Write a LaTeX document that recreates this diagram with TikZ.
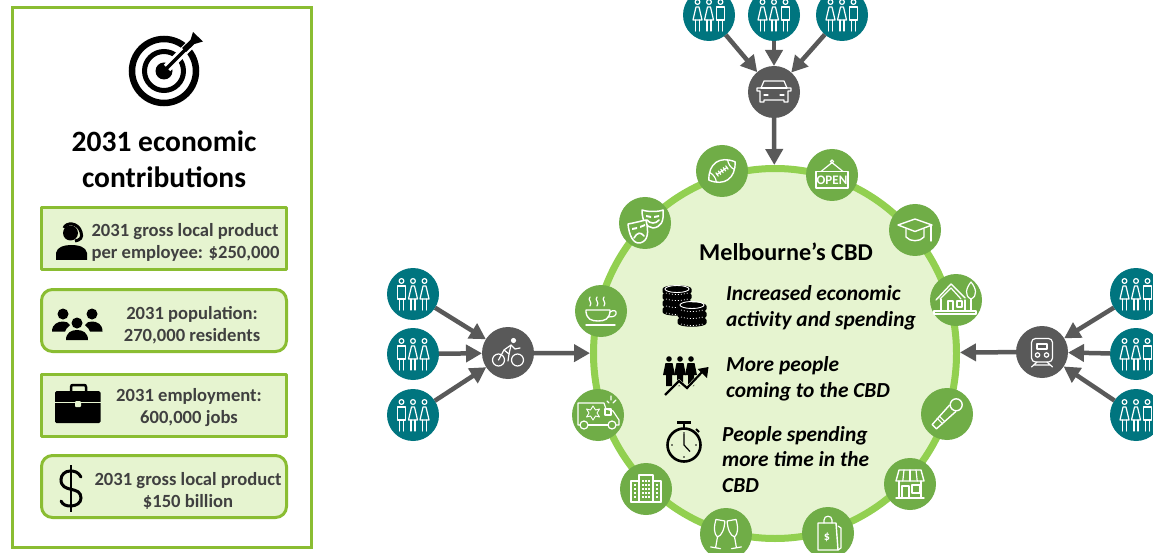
\documentclass[tikz,border=0pt]{standalone}
\usepackage{fontspec}
\setmainfont{Carlito}
\usetikzlibrary{arrows.meta,shapes.geometric}
\definecolor{boxline}{HTML}{8ABD32}
\definecolor{boxfill}{HTML}{E6F4D0}
\definecolor{ringline}{HTML}{92D050}
\definecolor{iconfill}{HTML}{70AD47}
\definecolor{tealc}{HTML}{00757F}
\definecolor{darkc}{HTML}{595959}
\definecolor{txtc}{HTML}{404040}
\tikzset{
  dot/.style={circle,minimum size=52pt,inner sep=0pt,outer sep=0pt},
  ringdot/.style={dot,fill=iconfill},
  tealdot/.style={dot,fill=tealc},
  darkdot/.style={dot,fill=darkc},
  arr/.style={draw=darkc,line width=4.5pt,-{Triangle[length=16pt,width=17pt]}},
  sqbox/.style={draw=boxline,line width=3pt,fill=boxfill,line join=round},
  rdbox/.style={sqbox,rounded corners=11pt},
  boxtext/.style={text=txtc,font=\fontsize{18.6}{22}\bfseries\selectfont,align=center,inner sep=0pt},
  ittext/.style={text=black,font=\fontsize{21.4}{25.5}\bfseries\itshape\selectfont,align=left,anchor=west,inner sep=0pt},
  wl/.style={draw=white,line width=1.2pt,line join=round,line cap=round},
  woman/.pic={
    \draw[wl] (0,-13) circle (2.4);
    \draw[wl] (-1.5,-8) -- (-4.5,5) -- (4.5,5) -- (1.5,-8) -- cycle;
    \draw[wl] (-2,5) -- (-2,16) (2,5) -- (2,16);
  },
  man/.pic={
    \draw[wl] (0,-13) circle (2.4);
    \draw[wl] (-4.2,-8) rectangle (4.2,5);
    \draw[wl] (-2.3,5) -- (-2.3,16) (2.3,5) -- (2.3,16);
  },
  crowdL/.pic={\pic at (-11.5,0) {man};\pic at (0,0) {woman};\pic at (11.5,0) {woman};},
  crowdR/.pic={\pic at (-11.5,0) {woman};\pic at (0,0) {woman};\pic at (11.5,0) {man};},
}
\begin{document}
\begin{tikzpicture}[x=1pt,y=-1pt]
\clip (0,0) rectangle (1153,553);
\fill[white] (0,0) rectangle (1153,553);
%% left panel
\node[draw=boxline,line width=3pt,fill=white,minimum width=299pt,minimum height=540pt,inner sep=0pt] (panel) at (161.5,277.5) {};
\node[font=\fontsize{29.5}{36}\bfseries\selectfont,align=center,inner sep=0pt] (title) at (164,159.5) {2031 economic\\contributions};
\node[sqbox,minimum width=245pt,minimum height=62pt,inner sep=0pt] (b1) at (164,238.5) {};
\node[rdbox,minimum width=245pt,minimum height=62pt,inner sep=0pt] (b2) at (164,320.5) {};
\node[sqbox,minimum width=245pt,minimum height=62pt,inner sep=0pt] (b3) at (164,405) {};
\node[rdbox,minimum width=245pt,minimum height=62pt,inner sep=0pt] (b4) at (164,486.5) {};
\node[boxtext,align=left] (t1) at (185.5,242) {2031 gross local product\\per employee: \$250,000};
\node[boxtext] (t2) at (192,325) {2031 population:\\270,000 residents};
\node[boxtext] (t3) at (189,408) {2031 employment:\\600,000 jobs};
\node[boxtext] (t4) at (188,491) {2031 gross local product\\\$150 billion};
%% target icon
\draw[black,line width=6.5pt] (164,71) circle (32);
\draw[black,line width=5pt] (164,71) circle (19.5);
\fill[black] (164,71) circle (8.5);
\draw[white,line width=9pt] (167,68) -- (196,39);
\draw[black,line width=3.5pt] (164,71) -- (190,45);
\fill[black] (193,32) -- (203,41.5) -- (194.5,44) -- (186,52) -- (182,48) -- (190.5,40) -- cycle;
%% headset person
\draw[black,line width=3pt] (64,228) .. controls (66,222) and (78,222) .. (81,232) .. controls (83,238) and (80,240) .. (75,241);
\fill[black] (70.5,233) circle (7.5);
\fill[black] (56,260) -- (56,253) .. controls (57,247) and (64,245) .. (71,245) .. controls (79,245) and (86,247) .. (87,253) -- (87,260) -- cycle;
%% group icon
\fill[black] (63,314) circle (5.5) (92,314) circle (5.5) (77,323) circle (5.5);
\fill[black] (52,331.5) .. controls (52,324) and (58,321.5) .. (63,321.5) .. controls (66,321.5) and (69,322.5) .. (70,325) .. controls (67,328) and (65,330) .. (65,331.5) -- cycle;
\fill[black] (102.5,331.5) .. controls (102.5,324) and (97,321.5) .. (92,321.5) .. controls (89,321.5) and (86,322.5) .. (85,325) .. controls (88,328) and (90,330) .. (90,331.5) -- cycle;
\fill[black] (66,340) .. controls (66,333) and (71,330) .. (77,330) .. controls (83,330) and (88,333) .. (88,340) -- cycle;
%% briefcase
\draw[black,line width=2.5pt] (71,392) -- (71,387) .. controls (71,385.5) and (72,385) .. (73,385) -- (84,385) .. controls (85,385) and (86,385.5) .. (86,387) -- (86,392);
\fill[black,rounded corners=1.5pt] (55,391) rectangle (100.5,423);
\draw[boxfill,line width=.9pt] (55,402.5) -- (100.5,402.5);
\fill[boxfill,rounded corners=1pt] (75,401) rectangle (81,407);
%% dollar icon
\draw[black,line width=2.2pt] (71,465) -- (71,512);
\draw[black,line width=3pt,line cap=round] (81,477) .. controls (78,472) and (75,471) .. (70,471) .. controls (65,471) and (61,475) .. (61,479.5) .. controls (61,494) and (81,485) .. (81,498) .. controls (81,503) and (76,506) .. (71,506) .. controls (66,506) and (63,505) .. (61,501);
%% CBD
\node[ellipse,draw=ringline,line width=7pt,fill=boxfill,minimum width=363pt,minimum height=370pt,inner sep=0pt,outer sep=3.5pt] (cbd) at (775,353.5) {};
\node[font=\fontsize{24.2}{26}\bfseries\selectfont,inner sep=0pt] (cbdt) at (786,252) {Melbourne’s CBD};
\node[ittext] (i1) at (726,308) {Increased economic\\activity and spending};
\node[ittext] (i2) at (726,379) {More people\\coming to the CBD};
\node[ittext] (i3) at (722,459.5) {People spending\\more time in the\\CBD};
%% coins
\foreach \cx/\cy in {677/310,677/303,677/296,677/290,692/321,692/314,692/307}{
  \fill[black] (\cx-14.5,\cy-1) -- (\cx-14.5,\cy+2) .. controls (\cx-14.5,\cy+7) and (\cx+14.5,\cy+7) .. (\cx+14.5,\cy+2) -- (\cx+14.5,\cy-1) .. controls (\cx+14.5,\cy-6) and (\cx-14.5,\cy-6) .. (\cx-14.5,\cy-1) -- cycle;
  \draw[white,line width=.7pt,dash pattern=on 1pt off 2pt] (\cx-11,\cy+3) .. controls (\cx-5,\cy+5) and (\cx+5,\cy+5) .. (\cx+11,\cy+3);
}
\draw[white,line width=.9pt] (692,305) ellipse (12 and 3.5);
\draw[white,line width=.9pt] (677,289) ellipse (12 and 3.5);
%% people + rising arrow
\foreach \px/\py in {669/359,680/359,691/359}{
  \fill[black] (\px,\py) circle (2.8);
  \fill[black] (\px-3.5,\py+4) -- (\px+3.5,\py+4) -- (\px+6,\py+16) -- (\px+3,\py+16) -- (\px+3,\py+27) -- (\px-3,\py+27) -- (\px-3,\py+16) -- (\px-6,\py+16) -- cycle;
}
\draw[boxfill,line width=4.5pt,line join=miter] (665,396) -- (679,382) -- (687,389) -- (704,371);
\draw[black,line width=2.2pt,line join=miter] (665,395) -- (679,381) -- (687,388) -- (703,371);
\fill[black] (708.5,367) -- (707,378) -- (697.5,369) -- cycle;
%% stopwatch
\draw[black,line width=2.6pt] (684,445) circle (16.5);
\draw[black,line width=2.4pt] (677,422.5) -- (691,422.5) (684,422.5) -- (684,428);
\draw[black,line width=2pt] (696,429) -- (699,432);
\draw[black,line width=1.2pt] (684,434) -- (684,445) -- (690,451.5);
\fill[black] (684,433) circle (.9) (684,457) circle (.9) (672,445) circle (.9) (696,445) circle (.9);
%% hub and people nodes
\node[tealdot] (pt1) at (709,15) {};
\node[tealdot] (pt2) at (774,15) {};
\node[tealdot] (pt3) at (842,15) {};
\node[tealdot] (pl1) at (413,294) {};
\node[tealdot] (pl2) at (413,354) {};
\node[tealdot] (pl3) at (413,415) {};
\node[tealdot] (pr1) at (1136,294) {};
\node[tealdot] (pr2) at (1136,354) {};
\node[tealdot] (pr3) at (1136,415) {};
\node[darkdot] (car) at (774,92) {};
\node[darkdot] (bike) at (508,353) {};
\node[darkdot] (train) at (1042,352) {};
\foreach \n in {pt1,pt2,pt3}{\pic at (\n) {crowdR};}
\foreach \n in {pl1,pl2,pl3}{\pic at (\n) {crowdL};}
\foreach \n in {pr1,pr2,pr3}{\pic at (\n) {crowdR};}
%% connectors
\draw[arr] (pt1) -- (car);
\draw[arr] (pt2) -- (car);
\draw[arr] (pt3) -- (car);
\draw[arr] (pl1) -- (bike);
\draw[arr] (pl2) -- (bike);
\draw[arr] (pl3) -- (bike);
\draw[arr] (pr1) -- (train);
\draw[arr] (pr2) -- (train);
\draw[arr] (pr3) -- (train);
\draw[arr] (car) -- (cbd);
\draw[arr] (bike) -- (cbd);
\draw[arr] (train) -- (cbd);
%% ring icons
\node[ringdot] (foot) at (722,171) {};
\node[ringdot] (open) at (832,175) {};
\node[ringdot] (mask) at (645,223) {};
\node[ringdot] (grad) at (915,230) {};
\node[ringdot] (house) at (956,300) {};
\node[ringdot] (cup) at (601,311) {};
\node[ringdot] (amb) at (598,415) {};
\node[ringdot] (mic) at (947,414) {};
\node[ringdot] (bld) at (646,489) {};
\node[ringdot] (shop) at (910,484) {};
\node[ringdot] (flute) at (726,534) {};
\node[ringdot] (bag) at (828,533) {};
%% car icon
\begin{scope}[shift={(car)}]
\draw[wl] (-10,-11) -- (10,-11) -- (13,-4) -- (17,-4) -- (17,-1) -- (14,-1) -- (14,10) -- (10,10) -- (10,8) -- (-10,8) -- (-10,10) -- (-14,10) -- (-14,-1) -- (-17,-1) -- (-17,-4) -- (-13,-4) -- cycle;
\draw[wl] (-13,-4) -- (13,-4);
\draw[wl] (-10,3) -- (-6,3) (6,3) -- (10,3);
\end{scope}
%% bike icon
\begin{scope}[shift={(bike)}]
\draw[wl] (-9.5,7) circle (6) (9.5,7) circle (6);
\fill[white] (5.5,-12.5) circle (2.6);
\draw[wl] (-9.5,7) -- (-4,-3) -- (3,-8) -- (7,-4) -- (12,-5);
\draw[wl] (-4,-3) -- (1,1) -- (0,8);
\draw[wl] (3,-8) -- (1,1);
\end{scope}
%% train icon
\begin{scope}[shift={(train)}]
\draw[wl,rounded corners=4pt] (-10.5,-13.5) rectangle (10.5,10);
\draw[wl] (-5,-8) rectangle (5,-3);
\draw[wl] (-4.5,3) circle (2.2) (4.5,3) circle (2.2);
\draw[wl] (-5,10) -- (-10.5,15) (5,10) -- (10.5,15) (-8,13) -- (8,13);
\end{scope}
%% football
\begin{scope}[shift={(foot)},rotate=35]
\draw[wl,line width=1.4pt] (-16,0) .. controls (-7,-14) and (7,-14) .. (16,0) .. controls (7,14) and (-7,14) .. (-16,0) -- cycle;
\draw[wl] (-6,0) -- (6,0);
\foreach \q in {-6,-3,0,3,6}{\draw[wl] (\q,-2) -- (\q,2);}
\draw[wl] (-11,-6) .. controls (-9,-2) and (-9,2) .. (-11,6);
\draw[wl] (11,-6) .. controls (9,-2) and (9,2) .. (11,6);
\end{scope}
%% open sign
\begin{scope}[shift={(open)}]
\draw[wl,line width=1.5pt] (-16,-3.5) rectangle (16,13);
\draw[wl] (-11,-3.5) -- (-.5,-12) (11,-3.5) -- (.5,-12);
\draw[wl] (0,-13.5) circle (1.6);
\node[text=white,font=\fontsize{13}{13}\bfseries\selectfont,inner sep=0pt] (opent) at (0,4.8) {OPEN};
\end{scope}
%% masks
\begin{scope}[shift={(mask)}]
\draw[wl,line width=1.5pt,fill=iconfill] (-3,-13) .. controls (3,-11) and (13,-11) .. (18,-13) .. controls (19,-1) and (16,4) .. (8,5) .. controls (1,4) and (-3,-2) .. (-3,-13) -- cycle;
\fill[white] (1,-8) -- (6,-7) -- (6,-5) -- (1,-6) -- cycle (14,-8) -- (9,-7) -- (9,-5) -- (14,-6) -- cycle;
\draw[wl,line width=1.6pt] (2,-3) .. controls (5,1) and (11,1) .. (14,-3);
\draw[wl,line width=1.5pt,fill=iconfill] (-17,1) .. controls (-11,0) and (-4,-2) .. (1,-3) .. controls (4,10) and (3,18) .. (-5,20) .. controls (-12,21) and (-16,12) .. (-17,1) -- cycle;
\fill[white] (-13,5) -- (-8,4) -- (-8,6) -- (-13,7) -- cycle (-5,3) -- (0,1) -- (0,3) -- (-5,5) -- cycle;
\draw[wl,line width=1.6pt] (-11,15) .. controls (-8,9) and (-4,9) .. (-1,13);
\end{scope}
%% graduation cap
\begin{scope}[shift={(grad)}]
\draw[wl,line width=1.4pt] (-17,-5) -- (0,-11) -- (17,-5) -- (0,1.5) -- cycle;
\draw[wl,line width=1.4pt] (-9,-1) -- (-9,7) .. controls (-5,12) and (5,12) .. (9,7) -- (9,-1);
\draw[wl,line width=1.4pt] (16,-5) -- (16,11);
\end{scope}
%% house
\begin{scope}[shift={(house)}]
\draw[wl,line width=1.4pt] (-20,0) -- (-5,-16) -- (9,-2);
\draw[wl] (-16,-1) -- (-5,-12) -- (5,-1);
\draw[wl] (-15,-1) -- (-15,11) (9,0) -- (9,11);
\draw[wl] (-8,1) rectangle (-3,11);
\draw[wl] (1,1) rectangle (6,7);
\draw[wl] (-22,11) rectangle (20,14);
\draw[wl] (15,-18) .. controls (10,-12) and (8,-4) .. (15,-1) .. controls (22,-4) and (20,-12) .. (15,-18) -- cycle;
\draw[wl] (15,-1) -- (15,11);
\end{scope}
%% cup
\begin{scope}[shift={(cup)}]
\draw[wl,line width=1.4pt] (-15,-1) -- (9,-1) -- (9,1) .. controls (8,8) and (4,10) .. (-3,10) .. controls (-10,10) and (-14,8) .. (-15,1) -- cycle;
\draw[wl] (9,1) .. controls (13,-2) and (16,0) .. (15,3) .. controls (14,6) and (10,6) .. (7,6);
\draw[wl,line width=1.4pt] (-15,14) -- (14,14);
\foreach \q in {-11,-4,3}{\draw[wl] (\q,-14) .. controls (\q-3,-11) and (\q+3,-9) .. (\q,-5);}
\end{scope}
%% ambulance
\begin{scope}[shift={(amb)}]
\draw[wl] (-18,10) -- (-20,10) -- (-20,-12) -- (6,-12) -- (8,-6) -- (15,-4) -- (21,5) -- (21,10) -- (18,10);
\draw[wl] (10,10) -- (-10,10);
\draw[wl] (-14,10) circle (4) (14,10) circle (4);
\draw[wl] (7,-6) rectangle (13,0);
\draw[wl,line width=.9pt] (-5,-9) -- (-2.5,-5) -- (1.5,-6) -- (-1,-2) -- (1.5,2) -- (-2.5,1) -- (-5,5) -- (-7.5,1) -- (-11.5,2) -- (-9,-2) -- (-11.5,-6) -- (-7.5,-5) -- cycle;
\draw[wl] (9,-14) -- (11,-12) (13,-19) -- (13,-15) (18,-15) -- (15,-12);
\end{scope}
%% microphone
\begin{scope}[shift={(mic)},rotate=-45]
\draw[wl,line width=1.4pt] (0,-13) circle (6);
\draw[wl,line width=1.4pt] (-4.5,-8) -- (-3,18) -- (3,18) -- (4.5,-8);
\draw[wl] (-4,7) -- (4,7) (-4,10) -- (4,10);
\end{scope}
%% buildings
\begin{scope}[shift={(bld)}]
\draw[wl,line width=1.4pt] (-15,13) -- (-15,-8) -- (-7,-8) -- (-7,13);
\draw[wl,line width=1.4pt] (-7,13) -- (-7,-14) -- (7,-14) -- (7,13);
\draw[wl,line width=1.4pt] (7,-8) -- (15,-8) -- (15,13);
\draw[wl,line width=1.4pt] (-15,13) -- (15,13);
\foreach \q in {-11,-3,0,3,11}{\foreach \r in {-4,0,4,8}{\fill[white] (\q-.7,\r-.7) rectangle (\q+.7,\r+.7);}}
\foreach \q in {-3,0,3}{\fill[white] (\q-.7,-8.7) rectangle (\q+.7,-7.3);}
\end{scope}
%% shop
\begin{scope}[shift={(shop)}]
\draw[wl,line width=1.4pt] (-11,-14) -- (11,-14) -- (14,-3) -- (-14,-3) -- cycle;
\foreach \q in {-6,0,6}{\draw[wl] (\q,-14) -- (\q*1.2,-3);}
\draw[wl,line width=1.4pt] (-11,-3) -- (-11,14) (11,-3) -- (11,14) (-14,14) -- (14,14);
\draw[wl] (-8,2) rectangle (-1,14);
\draw[wl] (2,1) rectangle (10,9);
\end{scope}
%% flutes
\begin{scope}[shift={(flute)}]
\begin{scope}[shift={(-8,0)},rotate=-10]
\draw[wl] (-4.5,-14) -- (4.5,-14) .. controls (5.5,-6) and (4,1) .. (0,3) .. controls (-4,1) and (-5.5,-6) .. (-4.5,-14) -- cycle;
\draw[wl] (0,3) -- (0,14) (-5,14) -- (5,14);
\end{scope}
\begin{scope}[shift={(8,0)},rotate=10]
\draw[wl] (-4.5,-14) -- (4.5,-14) .. controls (5.5,-6) and (4,1) .. (0,3) .. controls (-4,1) and (-5.5,-6) .. (-4.5,-14) -- cycle;
\draw[wl] (0,3) -- (0,14) (-5,14) -- (5,14);
\end{scope}
\end{scope}
%% bag
\begin{scope}[shift={(bag)}]
\draw[wl,line width=1.4pt] (-10,-10) -- (8,-10) -- (10,17) -- (-10,17) -- cycle;
\draw[wl] (-4,-10) -- (-4,-13) .. controls (-4,-18) and (4,-18) .. (4,-13) -- (4,-10);
\draw[wl] (10,-7) -- (13,-5) -- (13,15) -- (10,17);
\node[text=white,font=\fontsize{12}{12}\bfseries\selectfont,inner sep=0pt] (bagt) at (-1,4) {\$};
\end{scope}
\end{tikzpicture}
\end{document}
